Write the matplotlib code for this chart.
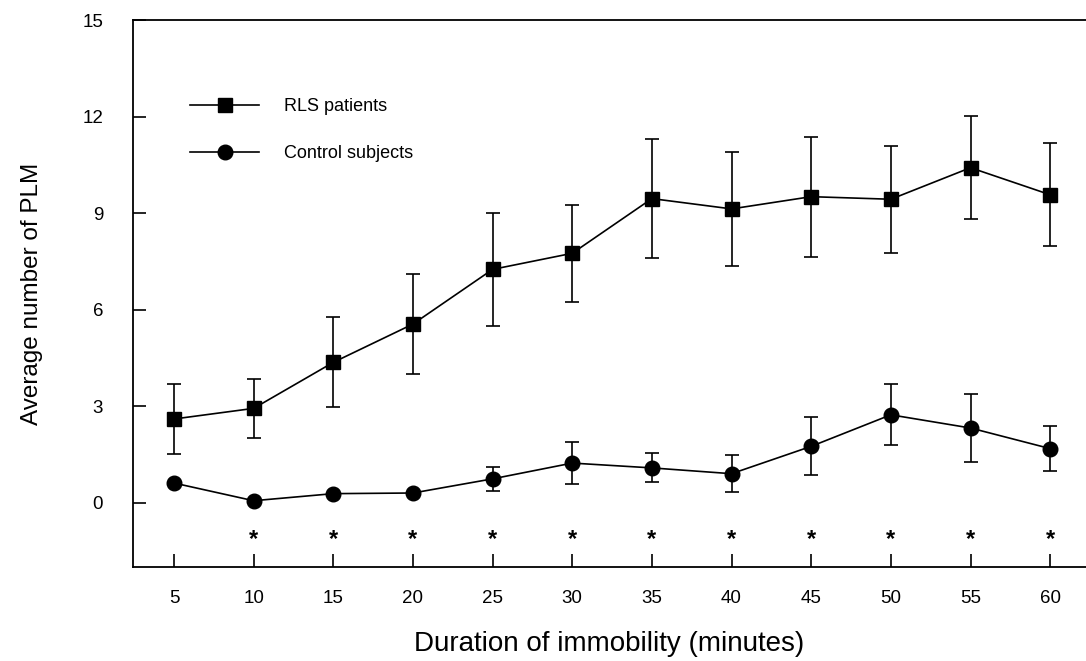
import matplotlib
matplotlib.use('Agg')
import matplotlib.pyplot as plt
from matplotlib.lines import Line2D

plt.rcParams['font.family'] = ['Liberation Sans', 'DejaVu Sans']

# данные
minutes = [5, 10, 15, 20, 25, 30, 35, 40, 45, 50, 55, 60]
rls_mean = [2.6, 2.93, 4.36, 5.55, 7.25, 7.75, 9.45, 9.13, 9.51, 9.43, 10.41, 9.57]
rls_err = [1.1, 0.92, 1.4, 1.55, 1.75, 1.5, 1.85, 1.78, 1.86, 1.67, 1.6, 1.6]
ctrl_mean = [0.61, 0.06, 0.28, 0.30, 0.74, 1.23, 1.08, 0.9, 1.75, 2.73, 2.32, 1.68]
ctrl_err = [0.0, 0.0, 0.0, 0.0, 0.37, 0.64, 0.45, 0.57, 0.9, 0.95, 1.05, 0.7]
star_minutes = [10, 15, 20, 25, 30, 35, 40, 45, 50, 55, 60]
star_level = -1.15

fig = plt.figure(figsize=(10.86, 6.61), dpi=100)
ax = fig.add_axes([0.1225, 0.1422, 0.8775, 0.8275])

ax.errorbar(minutes, rls_mean, yerr=rls_err, color='black', marker='s',
            markersize=10, linewidth=1.2, elinewidth=1.2, capsize=5,
            capthick=1.2)
ax.errorbar(minutes, ctrl_mean, yerr=ctrl_err, color='black', marker='o',
            markersize=10.5, linewidth=1.2, elinewidth=1.2, capsize=5,
            capthick=1.2)

for m in star_minutes:
    ax.text(m, star_level, '*', ha='center', va='center', fontsize=17,
            fontweight='bold')

ax.set_xlim(2.43, 62.25)
ax.set_ylim(-2, 15)
ax.set_xticks(minutes)
ax.set_yticks([0, 3, 6, 9, 12, 15])
ax.tick_params(direction='in', length=9.5, width=1.2, labelsize=13.5)
ax.tick_params(axis='x', pad=16.5)
ax.tick_params(axis='y', pad=21.5)
ax.spines['right'].set_visible(False)
for s in ['left', 'top', 'bottom']:
    ax.spines[s].set_linewidth(1.3)

ax.set_xlabel('Duration of immobility (minutes)', fontsize=20, labelpad=17)
ax.set_ylabel('Average number of PLM', fontsize=17.5, labelpad=28)

# легенда
handles = [
    Line2D([], [], color='black', marker='s', markersize=10, linewidth=1.2),
    Line2D([], [], color='black', marker='o', markersize=10.5, linewidth=1.2),
]
ax.legend(handles, ['RLS patients', 'Control subjects'], loc='upper left',
          bbox_to_anchor=(0.06, 0.857), frameon=False, borderpad=0,
          borderaxespad=0, handlelength=3.8, handletextpad=1.4,
          labelspacing=1.64, fontsize=13)

plt.savefig('out.png', dpi=100)
